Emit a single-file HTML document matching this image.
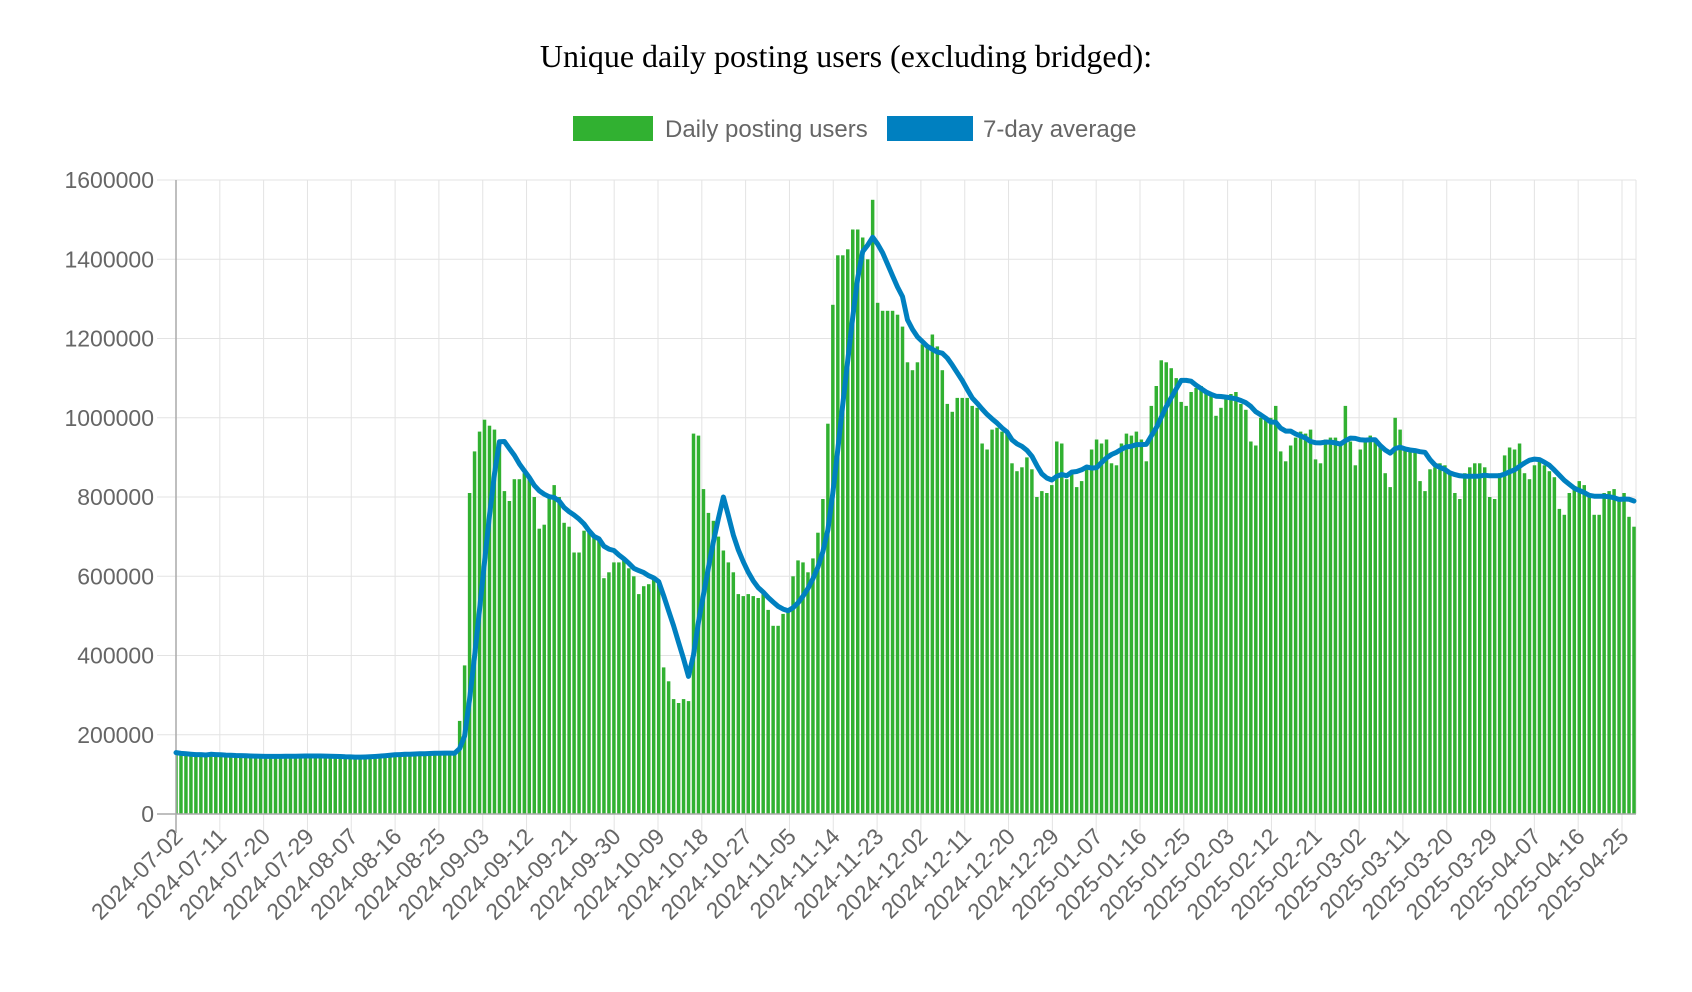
<!DOCTYPE html>
<html><head><meta charset="utf-8"><style>
html,body{margin:0;padding:0;background:#fff;width:1692px;height:992px;overflow:hidden}
svg{display:block}
</style></head><body>
<svg id="c" width="1692" height="992" xmlns="http://www.w3.org/2000/svg">
<text x="846" y="67" text-anchor="middle" font-family="Liberation Serif, serif" font-size="32" fill="#000">Unique daily posting users (excluding bridged):</text>
<rect x="573" y="116" width="80" height="25" fill="#31b131"/>
<text x="665" y="137" font-family="Liberation Sans, sans-serif" font-size="24" fill="#666">Daily posting users</text>
<rect x="887" y="116" width="86" height="25" fill="#0080c0"/>
<text x="983" y="137" font-family="Liberation Sans, sans-serif" font-size="24" fill="#666">7-day average</text>
<g id="g"></g>
</svg>
<script>
var d=[];
var base=[155,153,152,151,150,150,149,149,148,148,147,147,146,146,146,145,145,145,145,146,146,146,146,146,146,147,147,147,146,145,145,144,144,144,143,143,143,144,146,148,149,150,150,151,151,151,152,152,153,153,154,154,154,154,153,153,152];
d=base.slice();
d=d.concat([235,375,810,915,965,995,980,970,940,815,790,845,845,860,850,800,720,730,800,830,800,735,725,660,660,715,710,700,690,595,610,635,635,645,620,600,555,575,580,595,580,370,335,290,280,290,285,960,955,820,760,740,700,665,635,610,555,550,555,550,545,555,515,475,475,505,520,600,640,635,610,645,710,795,985,1285,1410,1410,1425,1475,1475,1455,1400,1550,1290,1270,1270,1270,1260,1230,1140,1120,1140,1185,1185,1210,1180,1120,1035,1015,1050,1050,1050,1030,1025,935,920,970,975,965,960,885,865,875,900,870,800,815,810,830,940,935,845,865,825,840,880,920,945,935,945,885,880,935,960,955,965,945,890,1030,1080,1145,1140,1125,1100,1040,1030,1065,1075,1080,1065,1060,1005,1025,1055,1060,1065,1035,1020,940,930,1000,1000,1000,1030,915,890,930,950,965,960,970,895,885,945,950,950,940,1030,940,880,920,945,955,940,930,860,825,1000,970,925,920,920,840,815,870,875,885,880,860,810,795,860,875,885,885,875,800,795,860,905,925,920,935,860,845,880,895,880,865,850,770,755,810,825,840,830,800,755,755,810,815,820,800,810,750,725]);
var N=d.length,L=176,R=1636,Z=814,T=180;
var step=(R-2-L)/(N-1);
function Y(v){return Z-(v/1600)*(Z-T);}
var s='';
for(var k=0;k<=8;k++){var y=Y(k*200);s+='<line x1="157" x2="'+R+'" y1="'+y+'" y2="'+y+'" stroke="#e3e3e3"/>';
s+='<text x="154" y="'+(y+8)+'" text-anchor="end" font-family="Liberation Sans, sans-serif" font-size="23" fill="#666">'+(k*200000)+'</text>';}
var dt=new Date(Date.UTC(2024,6,2));
var tstep=(1622-L)/297;
for(var t=0;t<=297;t+=9){var x=L+t*tstep;var dd=new Date(dt.getTime()+t*864e5);var lab=dd.toISOString().slice(0,10);
s+='<line x1="'+x+'" x2="'+x+'" y1="'+T+'" y2="833" stroke="#e3e3e3"/>';
s+='<text transform="translate('+(x+8)+',838) rotate(-45)" text-anchor="end" font-family="Liberation Sans, sans-serif" font-size="23" fill="#666">'+lab+'</text>';}
s+='<line x1="'+R+'" x2="'+R+'" y1="'+T+'" y2="'+Z+'" stroke="#e3e3e3"/>';
var bw=step*0.7;
for(var i=0;i<N;i++){var x=L+i*step;var x0=Math.max(L,x-bw/2);var w=x+bw/2-x0;s+='<rect x="'+x0.toFixed(2)+'" y="'+Y(d[i]).toFixed(1)+'" width="'+w.toFixed(2)+'" height="'+(Z-Y(d[i])).toFixed(1)+'" fill="#31b131"/>';}
s+='<line x1="'+L+'" x2="'+L+'" y1="'+T+'" y2="833" stroke="#aaa" stroke-width="1.5"/>';
s+='<line x1="157" x2="'+R+'" y1="'+Z+'" y2="'+Z+'" stroke="#aaa" stroke-width="1.5"/>';
var p='';
for(var i=0;i<N;i++){var a=0,c=0;for(var j=Math.max(0,i-6);j<=i;j++){a+=d[j];c++;}var v=i<7?d[i]:a/c;p+=(i?'L':'M')+(L+i*step).toFixed(1)+','+Y(v).toFixed(1);}
s+='<path d="'+p+'" fill="none" stroke="#0080c0" stroke-width="5" stroke-linejoin="round" stroke-linecap="round"/>';
document.getElementById('g').innerHTML=s;
</script>
</body></html>
